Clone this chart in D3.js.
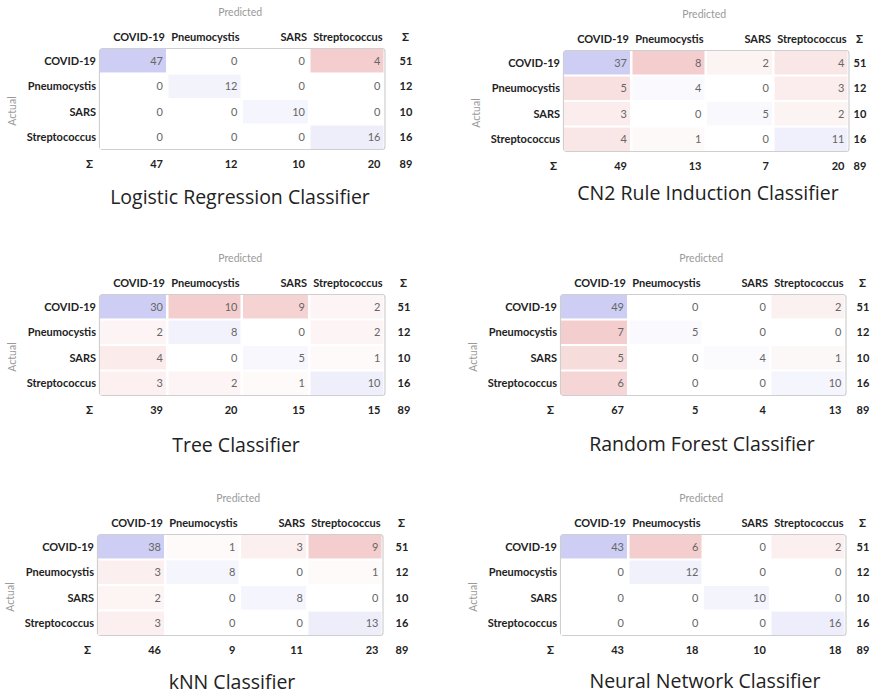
<!DOCTYPE html>
<html>
<head>
<meta charset="utf-8">
<script src="https://cdn.jsdelivr.net/npm/d3@7"></script>
<style>
  html, body { margin: 0; padding: 0; background: #fff; }
  svg { display: block; font-family: Lato, "Open Sans", sans-serif; }
  .title { font-family: "Open Sans", "Noto Sans", sans-serif; }
</style>
</head>
<body>
<svg id="chart" width="882" height="696"></svg>
<script>
// ---------------- DATA ----------------
const classes = ["COVID-19", "Pneumocystis", "SARS", "Streptococcus"];
const modelTitles = [
  "Logistic Regression Classifier",
  "CN2 Rule Induction Classifier",
  "Tree Classifier",
  "Random Forest Classifier",
  "kNN Classifier",
  "Neural Network Classifier"
];
// rows = actual, columns = predicted
const logisticMatrix = [[47, 0, 0, 4], [0, 12, 0, 0], [0, 0, 10, 0], [0, 0, 0, 16]];
const cn2Matrix      = [[37, 8, 2, 4], [5, 4, 0, 3], [3, 0, 5, 2], [4, 1, 0, 11]];
const treeMatrix     = [[30, 10, 9, 2], [2, 8, 0, 2], [4, 0, 5, 1], [3, 2, 1, 10]];
const forestMatrix   = [[49, 0, 0, 2], [7, 5, 0, 0], [5, 0, 4, 1], [6, 0, 0, 10]];
const knnMatrix      = [[38, 1, 3, 9], [3, 8, 0, 1], [2, 0, 8, 0], [3, 0, 0, 13]];
const neuralMatrix   = [[43, 6, 0, 2], [0, 12, 0, 0], [0, 0, 10, 0], [0, 0, 0, 16]];
const matrices = [logisticMatrix, cn2Matrix, treeMatrix, forestMatrix, knnMatrix, neuralMatrix];
const sumSymbol = "\u03A3";

// ---------------- LAYOUT ----------------
const panels = [
  { left: 99,  top: 48,  sumGap: 14, titleX: 240, titleY: 204 },
  { left: 563, top: 50,  sumGap: 4,  titleX: 708, titleY: 200 },
  { left: 99,  top: 294, sumGap: 12, titleX: 236, titleY: 452 },
  { left: 560, top: 294, sumGap: 10, titleX: 702, titleY: 451 },
  { left: 97,  top: 534, sumGap: 12, titleX: 232, titleY: 689 },
  { left: 560, top: 534, sumGap: 10, titleX: 705, titleY: 688 }
];
const colWidths = [66, 72, 65, 73];
const colGap = 2.5;
const rowH = 25;

const colLefts = [];
colWidths.reduce((acc, w) => { colLefts.push(acc); return acc + w + colGap; }, 1);
const boxW = colLefts[3] + colWidths[3] + 2;
const boxH = 1 + classes.length * rowH + 1;

const xLeft = d3.scaleOrdinal().domain(classes).range(colLefts);
const xWidth = d3.scaleOrdinal().domain(classes).range(colWidths);
const y = d3.scaleBand().domain(classes).range([1, 1 + classes.length * rowH]).paddingInner(2 / rowH).paddingOuter(0);

function cellColor(v, diag) {
  if (isNaN(v)) return "#fff";
  return d3.hsl(diag ? 240 : 0, 160 / 255, (255 - 30 * v) / 255).formatRgb();
}

const svg = d3.select("#chart");

panels.forEach((p, k) => {
  const m = matrices[k];
  const offMax = d3.max(m.flatMap((r, i) => r.filter((_, j) => i !== j)));
  const diagMax = d3.max(m.map((r, i) => r[i]));
  const rowSums = m.map(r => d3.sum(r));
  const colSums = classes.map((_, j) => d3.sum(m, r => r[j]));
  const total = d3.sum(rowSums);

  const g = svg.append("g").attr("transform", `translate(${p.left},${p.top})`);

  g.append("text").attr("x", boxW / 2 - 2).attr("y", -36).attr("dy", "0.35em")
    .attr("text-anchor", "middle").attr("font-size", 10.5).attr("fill", "#9a9a9a").text("Predicted");
  g.append("text").attr("transform", `translate(-87,63) rotate(-90)`).attr("dy", "0.35em")
    .attr("text-anchor", "middle").attr("font-size", 10.5).attr("fill", "#9a9a9a").text("Actual");

  g.selectAll(".colhead").data(classes).join("text")
    .attr("x", d => xLeft(d) + xWidth(d) - 1).attr("y", -11).attr("dy", "0.35em")
    .attr("text-anchor", "end").attr("font-size", 11).attr("font-weight", 700).attr("fill", "#222")
    .text(d => d);
  g.append("text").attr("x", boxW + p.sumGap + 6).attr("y", -11).attr("dy", "0.35em")
    .attr("text-anchor", "middle").attr("font-size", 11.5).attr("font-weight", 700).attr("fill", "#222").text(sumSymbol);

  g.selectAll(".rowhead").data(classes).join("text")
    .attr("x", -3).attr("y", d => y(d) + y.bandwidth() / 2).attr("dy", "0.35em")
    .attr("text-anchor", "end").attr("font-size", 11).attr("font-weight", 700).attr("fill", "#222")
    .text(d => d);

  g.append("rect").attr("x", 0.5).attr("y", 0.5).attr("width", boxW - 1).attr("height", boxH - 1)
    .attr("rx", 3).attr("fill", "#fff").attr("stroke", "#cfcfcf").attr("stroke-width", 1.2);

  const cells = [];
  m.forEach((r, i) => r.forEach((v, j) => cells.push({ i, j, v })));

  g.selectAll(".cell").data(cells).join("rect")
    .attr("x", d => xLeft(classes[d.j]))
    .attr("y", d => y(classes[d.i]))
    .attr("width", d => xWidth(classes[d.j]))
    .attr("height", y.bandwidth())
    .attr("fill", d => d.i === d.j
      ? cellColor(diagMax > 0 ? d.v / diagMax : NaN, true)
      : cellColor(offMax > 0 ? d.v / offMax : NaN, false));

  g.selectAll(".val").data(cells).join("text")
    .attr("x", d => xLeft(classes[d.j]) + xWidth(classes[d.j]) - 3)
    .attr("y", d => y(classes[d.i]) + y.bandwidth() / 2).attr("dy", "0.35em")
    .attr("text-anchor", "end").attr("font-size", 11).attr("fill", "#666")
    .text(d => d.v);

  g.selectAll(".rsum").data(rowSums).join("text")
    .attr("x", boxW + p.sumGap).attr("y", (d, i) => y(classes[i]) + y.bandwidth() / 2).attr("dy", "0.35em")
    .attr("text-anchor", "start").attr("font-size", 11).attr("font-weight", 700).attr("fill", "#222")
    .text(d => d);

  const sumY = boxH + 14;
  g.append("text").attr("x", -6).attr("y", sumY).attr("dy", "0.35em")
    .attr("text-anchor", "end").attr("font-size", 11.5).attr("font-weight", 700).attr("fill", "#222").text(sumSymbol);
  g.selectAll(".csum").data(colSums).join("text")
    .attr("x", (d, j) => xLeft(classes[j]) + xWidth(classes[j]) - 3).attr("y", sumY).attr("dy", "0.35em")
    .attr("text-anchor", "end").attr("font-size", 11).attr("font-weight", 700).attr("fill", "#222")
    .text(d => d);
  g.append("text").attr("x", boxW + p.sumGap).attr("y", sumY).attr("dy", "0.35em")
    .attr("text-anchor", "start").attr("font-size", 11).attr("font-weight", 700).attr("fill", "#222")
    .text(total);

  svg.append("text").attr("class", "title").attr("x", p.titleX).attr("y", p.titleY)
    .attr("text-anchor", "middle").attr("font-size", 19.5).attr("fill", "#222")
    .text(modelTitles[k]);
});
</script>
</body>
</html>
